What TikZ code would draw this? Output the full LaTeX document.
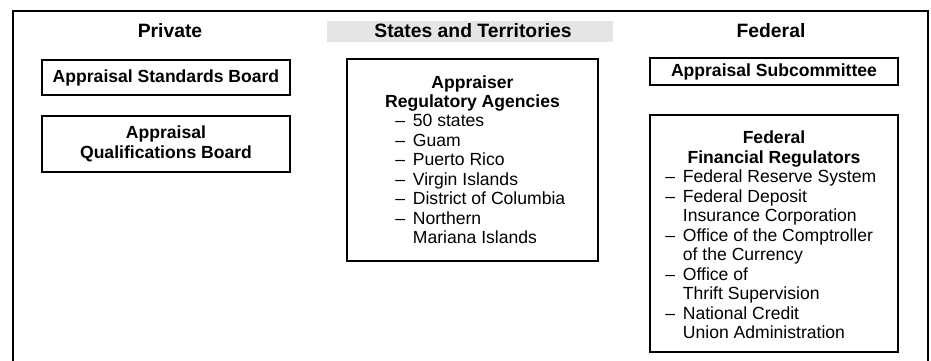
\documentclass[tikz,border=0pt]{standalone}
\usepackage{fontspec}
\setmainfont{Liberation Sans}
\usetikzlibrary{positioning}

\newcommand{\dashitem}[1]{\makebox[10pt][l]{--}#1}
\newcommand{\dashcont}[1]{\hspace*{10pt}#1}

\tikzset{
  headtext/.style={font=\bfseries\fontsize{11}{13}\selectfont, inner sep=0pt},
  boxtext/.style={font=\bfseries\fontsize{10}{11.1}\selectfont, align=center, inner sep=0pt},
  listtext/.style={font=\fontsize{10}{11.1}\selectfont, align=left, inner sep=0pt, anchor=north west}
}

\begin{document}
\begin{tikzpicture}[x=0.02cm, y=-0.02cm]
\useasboundingbox (0,0) rectangle (931,360);
% outer frame, open at the bottom
\draw[line width=1pt] (13,370) -- (13,11) -- (928,11) -- (928,370);

% column headings
\fill[gray!20] (327,21) rectangle (613,42);
\node[headtext] (hpriv) at (170,31) {Private};
\node[headtext] (hstate) at (473,31) {States and Territories};
\node[headtext] (hfed) at (771,31) {Federal};

% Private
\draw[thick] (42,60) rectangle (290,95);
\node[boxtext] (asb) at (166,77.5) {Appraisal Standards Board};
\draw[thick] (42,116) rectangle (290,172);
\node[boxtext] (aqb) at (166,144) {Appraisal\\Qualifications Board};

% States and Territories
\draw[thick] (347,59) rectangle (598,261);
\node[boxtext, anchor=north] (ara) at (472.5,75) {Appraiser\\Regulatory Agencies};
\node[listtext] (aralist) at (395,114) {\dashitem{50 states}\\
  \dashitem{Guam}\\
  \dashitem{Puerto Rico}\\
  \dashitem{Virgin Islands}\\
  \dashitem{District of Columbia}\\
  \dashitem{Northern}\\
  \dashcont{Mariana Islands}};

% Federal
\draw[thick] (650,58) rectangle (898,85);
\node[boxtext] (asc) at (774,71.5) {Appraisal Subcommittee};
\draw[thick] (650,115) rectangle (898,352);
\node[boxtext, anchor=north] (ffr) at (774,130.5) {Federal\\Financial Regulators};
\node[listtext] (ffrlist) at (665,169.5) {\dashitem{Federal Reserve System}\\
  \dashitem{Federal Deposit}\\
  \dashcont{Insurance Corporation}\\
  \dashitem{Office of the Comptroller}\\
  \dashcont{of the Currency}\\
  \dashitem{Office of}\\
  \dashcont{Thrift Supervision}\\
  \dashitem{National Credit}\\
  \dashcont{Union Administration}};
\end{tikzpicture}
\end{document}
